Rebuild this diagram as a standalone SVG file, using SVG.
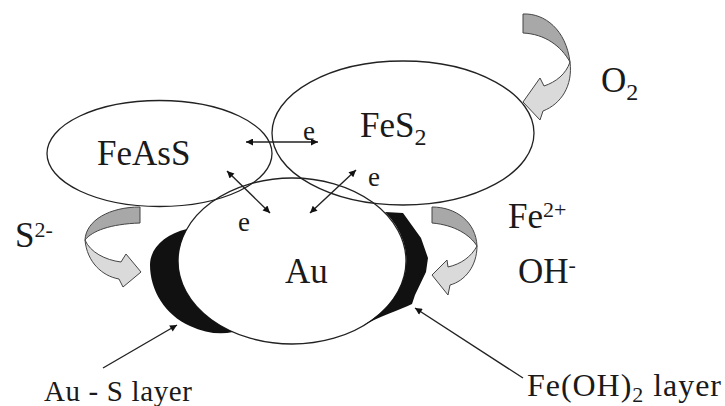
<svg xmlns="http://www.w3.org/2000/svg" width="725" height="406" viewBox="0 0 725 406">
<style>
.ell{fill:none;stroke:#222;stroke-width:1.3}
.lbl{font-family:"Liberation Serif","Times New Roman",serif;fill:#1a1a1a}
.big{font-size:35px}
.sm{font-size:27px}
.ln{stroke:#222;stroke-width:1.4;fill:none}
.dark{fill:#a8a8a8;stroke:#444;stroke-width:1}
.light{fill:#dadada;stroke:#444;stroke-width:1}
.layer{fill:#111;stroke:none}
</style>
<defs>
<marker id="ah" viewBox="0 0 10 10" refX="10" refY="5" markerWidth="10" markerHeight="7" markerUnits="userSpaceOnUse" orient="auto-start-reverse">
<path d="M0,0 L10,5 L0,10 z" fill="#111"/>
</marker>
</defs>
<rect width="725" height="406" fill="#fff"/>
<g id="node-feass">
<ellipse class="ell" cx="159.5" cy="153.5" rx="112.5" ry="53"/>
<text class="lbl big" x="97" y="165">FeAsS</text>
</g>
<g id="node-fes2">
<ellipse class="ell" cx="403" cy="133" rx="131" ry="72"/>
<text class="lbl big" x="360" y="137">FeS<tspan font-size="24" dy="8">2</tspan></text>
</g>
<g id="node-au">
<ellipse class="ell" cx="292" cy="261" rx="114" ry="83"/>
<text class="lbl big" x="285" y="283">Au</text>
</g>
<g id="layer-aus">
<path class="layer" d="M187,229 C165,234 150,248 150,265 C150,290 165,315 190,326 C205,333 220,335 233,332 A114 83 0 0 1 187,229 Z"/>
</g>
<g id="layer-feoh">
<path class="layer" d="M385,212 L403,213 L421,238 L428,258 L426,272 L415,295 L412,304 C400,310 380,316 362,326 A114 83 0 0 0 385,212 Z"/>
</g>
<g id="arrow-s">
<path class="dark" d="M140,207 C110,207 86,220 85,240 C92,231 110,224 140,223 Z"/>
<path class="light" d="M85,240 C87,262 102,276 119,279 L123,287 L141,272 L126,254 L121,262 C105,260 90,252 85,240 Z"/>
</g>
<g id="arrow-fe">
<path class="dark" d="M432,207 C456,207 476,222 477,246 C470,235 455,225 432,223 Z"/>
<path class="light" d="M477,246 C477,266 465,281 450,285 L448,295 L432,275 L447,260 L448,267 C461,264 471,257 477,246 Z"/>
</g>
<g id="arrow-o2">
<path class="dark" d="M523,14 C545,13 566,30 570,62 C561,46 545,34 523,33 Z"/>
<path class="light" d="M570,62 C573,86 561,104 543,111 L540,120 L523,102 L540,78 L544,86 C556,82 566,74 570,62 Z"/>
</g>
<g id="labels">
<text class="lbl big" x="15" y="247">S<tspan font-size="22" dy="-10">2-</tspan></text>
<text class="lbl big" x="508" y="228">Fe<tspan font-size="22" dy="-11">2+</tspan></text>
<text class="lbl big" x="518" y="283">OH<tspan font-size="22" dy="-11">-</tspan></text>
<text class="lbl big" x="601" y="92">O<tspan font-size="24" dy="8">2</tspan></text>
<text class="lbl sm" x="303" y="140">e</text>
<text class="lbl sm" x="368" y="186">e</text>
<text class="lbl sm" x="238" y="231">e</text>
<text class="lbl" font-size="29" x="44" y="401" textLength="148">Au - S layer</text>
<text class="lbl" font-size="32" x="527" y="396" textLength="194" lengthAdjust="spacing">Fe(OH)<tspan font-size="22" dy="6">2</tspan><tspan dy="-6"> layer</tspan></text>
</g>
<g id="connectors">
<line class="ln" x1="246" y1="142" x2="318" y2="142" marker-start="url(#ah)" marker-end="url(#ah)"/>
<line class="ln" x1="227" y1="171" x2="270" y2="213" marker-start="url(#ah)" marker-end="url(#ah)"/>
<line class="ln" x1="310" y1="213" x2="356" y2="170" marker-start="url(#ah)" marker-end="url(#ah)"/>
<line class="ln" x1="103" y1="368" x2="177" y2="325" marker-end="url(#ah)"/>
<line class="ln" x1="523" y1="378" x2="415" y2="308" marker-end="url(#ah)"/>
</g>
</svg>
